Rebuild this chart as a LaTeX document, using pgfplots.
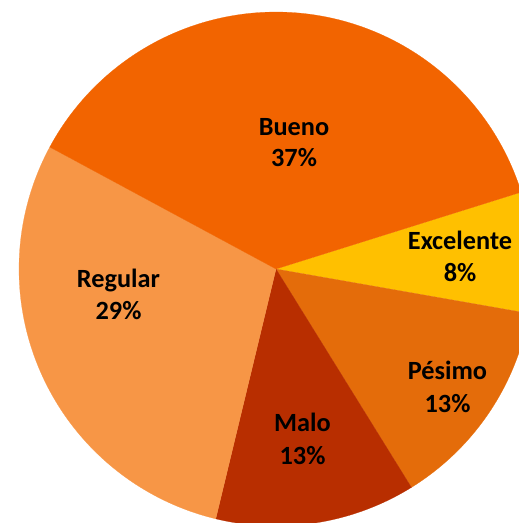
\documentclass[border=0pt]{standalone}
\usepackage{pgfplots}
\pgfplotsset{compat=1.18}
\usepackage{pgfplotstable}
\usepackage{fontspec}
\setmainfont{Carlito}
\definecolor{cBueno}{RGB}{242,100,0}
\definecolor{cExcelente}{RGB}{255,192,0}
\definecolor{cPesimo}{RGB}{228,108,10}
\definecolor{cMalo}{RGB}{184,46,0}
\definecolor{cRegular}{RGB}{247,150,70}
% shares of the pie (percent), clockwise from the Bueno/Excelente boundary
\def\pExcelente{7.6}
\def\pPesimo{13.4}
\def\pMalo{12.6}
\def\pRegular{29.1}
\def\pBueno{37.3}
\def\cx{276}\def\cy{254}\def\rr{257}
\newcommand{\lbl}{\fontsize{26.3}{31}\selectfont\bfseries}
\begin{document}
\begin{tikzpicture}
\pgfmathsetmacro{\aZ}{17.4}
\pgfmathsetmacro{\aA}{\aZ-3.6*\pExcelente}
\pgfmathsetmacro{\aB}{\aA-3.6*\pPesimo}
\pgfmathsetmacro{\aC}{\aB-3.6*\pMalo}
\pgfmathsetmacro{\aD}{\aC-3.6*\pRegular}
\pgfmathsetmacro{\aE}{\aD-3.6*\pBueno}
\begin{axis}[
  hide axis, scale only axis,
  width=519pt, height=523pt,
  xmin=0, xmax=519, ymin=0, ymax=523,
  clip=true,
  samples=120,
]
\addplot[fill=cExcelente, draw=cExcelente, line width=0.2pt, domain=\aA:\aZ]
  ({\cx+\rr*cos(x)},{\cy+\rr*sin(x)}) -- (axis cs:\cx,\cy) -- cycle;
\addplot[fill=cPesimo, draw=cPesimo, line width=0.2pt, domain=\aB:\aA]
  ({\cx+\rr*cos(x)},{\cy+\rr*sin(x)}) -- (axis cs:\cx,\cy) -- cycle;
\addplot[fill=cMalo, draw=cMalo, line width=0.2pt, domain=\aC:\aB]
  ({\cx+\rr*cos(x)},{\cy+\rr*sin(x)}) -- (axis cs:\cx,\cy) -- cycle;
\addplot[fill=cRegular, draw=cRegular, line width=0.2pt, domain=\aD:\aC]
  ({\cx+\rr*cos(x)},{\cy+\rr*sin(x)}) -- (axis cs:\cx,\cy) -- cycle;
\addplot[fill=cBueno, draw=cBueno, line width=0.2pt, domain=\aE:\aD]
  ({\cx+\rr*cos(x)},{\cy+\rr*sin(x)}) -- (axis cs:\cx,\cy) -- cycle;

\node[anchor=base, font=\lbl] at (axis cs:294,387) {Bueno};
\node[anchor=base, font=\lbl] at (axis cs:294,356) {37\%};
\node[anchor=base, font=\lbl] at (axis cs:460,273) {Excelente};
\node[anchor=base, font=\lbl] at (axis cs:460,241.3) {8\%};
\node[anchor=base, font=\lbl] at (axis cs:447.5,143) {Pésimo};
\node[anchor=base, font=\lbl] at (axis cs:447.5,110.3) {13\%};
\node[anchor=base, font=\lbl] at (axis cs:302.5,91.3) {Malo};
\node[anchor=base, font=\lbl] at (axis cs:302.5,59) {13\%};
\node[anchor=base, font=\lbl] at (axis cs:118.5,235.7) {Regular};
\node[anchor=base, font=\lbl] at (axis cs:118.5,203.7) {29\%};
\end{axis}
\pgfresetboundingbox
\useasboundingbox (current axis.south west) rectangle (current axis.north east);
\end{tikzpicture}
\end{document}
